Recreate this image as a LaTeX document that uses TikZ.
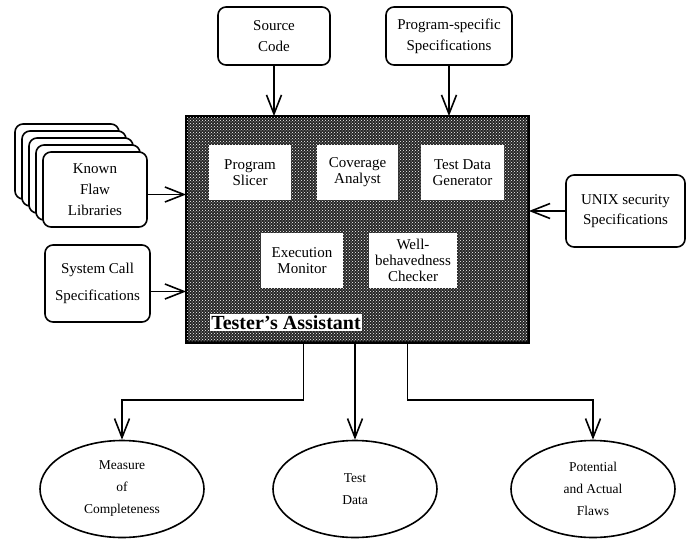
\documentclass[tikz,border=0pt]{standalone}
\usepackage{fontspec}
\setmainfont{Liberation Serif}
\usetikzlibrary{shapes.geometric,arrows.meta,patterns}

\begin{document}
\begin{tikzpicture}[x=1pt,y=-1pt,
	box/.style={draw,line width=1.6pt,rounded corners=8pt,fill=white,align=center,
		font=\fontsize{15}{21}\selectfont,inner sep=2pt},
	tool/.style={fill=white,align=center,font=\fontsize{15}{16}\selectfont,inner sep=0pt,
		minimum height=55pt},
	result/.style={draw,line width=1.6pt,ellipse,align=center,font=\fontsize{13.5}{22}\selectfont,
		inner sep=0pt,minimum width=164pt,minimum height=97pt},
	arr/.style={-{Straight Barb[length=19pt,width=15pt]},line width=1.6pt}]
	
	\useasboundingbox (0,0) rectangle (689,539);
	
	% the assistant
	\node[draw,line width=1.8pt,fill=black!85,minimum width=341pt,minimum height=225pt,inner sep=0pt] (ta) at (357.5,229.5) {};
	\fill[pattern=crosshatch dots,pattern color=white] (ta.north west) rectangle (ta.south east);
	\draw[line width=1.8pt] (ta.north west) rectangle (ta.south east);
	
	\node[tool,minimum width=82pt] (slicer) at (250,172.5) {Program\\Slicer};
	\node[tool,minimum width=81pt] (coverage) at (357.5,172.5) {Coverage\\Analyst};
	\node[tool,minimum width=83pt] (generator) at (462.5,172.5) {Test Data\\Generator};
	\node[tool,minimum width=82pt] (monitor) at (302,260.5) {Execution\\Monitor};
	\node[tool,minimum width=88pt] (checker) at (413,260.5) {Well-\\behavedness\\Checker};
	\node[fill=white,font=\bfseries\fontsize{20}{20}\selectfont,inner sep=1pt] (talabel) at (286,322.5) {Tester's Assistant};
	
	% inputs
	\node[box,minimum width=112pt,minimum height=58pt] (src) at (274,36) {Source\\Code};
	\node[box,minimum width=126pt,minimum height=58pt] (pspec) at (449,36) {Program-specific\\Specifications};
	\node[box,minimum width=119pt,minimum height=72pt,font=\fontsize{15}{20}\selectfont] (unix) at (625.5,211) {UNIX security\\Specifications};
	\foreach \k in {4,3,2,1}
	{
		\node[box,minimum width=104pt,minimum height=75pt] at (95-7*\k,189.5-7*\k) {};
	}
	\node[box,minimum width=104pt,minimum height=75pt] (flawlib) at (95,189.5) {Known\\Flaw\\Libraries};
	\node[box,minimum width=105pt,minimum height=77pt,font=\fontsize{15}{27}\selectfont] (syscall) at (97.5,283.5) {System Call\\Specifications};
	
	\draw[arr] (src.south) -- (src.south |- ta.north);
	\draw[arr] (pspec.south) -- (pspec.south |- ta.north);
	\draw[arr] (unix.west) -- (unix.west -| ta.east);
	\draw[arr] ([yshift=-5pt]flawlib.east) -- ([yshift=-5pt]flawlib.east -| ta.west);
	\draw[arr] ([yshift=-8pt]syscall.east) -- ([yshift=-8pt]syscall.east -| ta.west);
	
	% outputs
	\node[result] (measure) at (122,489) {Measure\\of\\Completeness};
	\node[result] (testdata) at (355,489) {Test\\Data};
	\node[result] (flaws) at (593,489) {Potential\\and Actual\\Flaws};
	
	\draw[arr] ([xshift=-54pt]ta.south) -- ++(0,57) -| (measure.north);
	\draw[arr] (ta.south -| testdata.north) -- (testdata.north);
	\draw[arr] ([xshift=50pt]ta.south) -- ++(0,57) -| (flaws.north);
\end{tikzpicture}
\end{document}
